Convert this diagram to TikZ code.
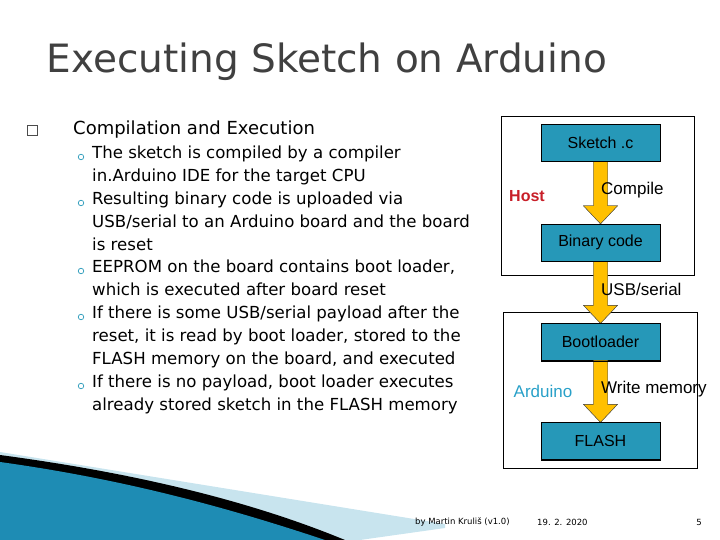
\documentclass[tikz,border=0pt]{standalone}
\usepackage{fontspec}
\setmainfont{Liberation Sans}
\newfontfamily\bodyfont{DejaVu Sans}
\usetikzlibrary{calc}
\usetikzlibrary{arrows}
\usetikzlibrary{shapes}
\usetikzlibrary{positioning}
\definecolor{boxteal}{RGB}{38,152,184}
\definecolor{arrowgold}{RGB}{255,192,0}
\definecolor{hostred}{RGB}{200,30,40}
\definecolor{ardblue}{RGB}{40,160,200}
\definecolor{swoosh}{RGB}{30,140,180}
\definecolor{swooshlight}{RGB}{200,228,238}

\tikzset{
  stagebox/.style={rectangle, draw=black, fill=boxteal, minimum width=119pt, minimum height=37pt, inner sep=0pt, font=\fontsize{16}{18}\selectfont},
  flowarrow/.style={draw=black!70, fill=arrowgold, line width=0.4pt},
  itemtext/.style={anchor=north west, align=left, inner sep=0pt, font=\bodyfont\fontsize{16.6}{22.6}\selectfont},
  flowlabel/.style={anchor=west, inner sep=0pt, font=\fontsize{17}{18}\selectfont}
}
\newcommand{\flowarrowat}[2]{%
  \fill[flowarrow] ($(#1)+(-7,0)$) -- ($(#2)+(-7,-18)$) -- ($(#2)+(-17,-18)$) -- (#2)
    -- ($(#2)+(17,-18)$) -- ($(#2)+(7,-18)$) -- ($(#1)+(7,0)$) -- cycle;
  \draw[flowarrow] ($(#1)+(-7,0)$) -- ($(#2)+(-7,-18)$) -- ($(#2)+(-17,-18)$) -- (#2)
    -- ($(#2)+(17,-18)$) -- ($(#2)+(7,-18)$) -- ($(#1)+(7,0)$);}

\begin{document}
\begin{tikzpicture}[x=1pt, y=-1pt]
\useasboundingbox (0,0) rectangle (720,540);

% title
\node [anchor=west, text=black!75, font=\bodyfont\fontsize{39}{40}\selectfont] (title) at (43,62) {Executing Sketch on Arduino};

% bullet list
\draw [black!70, line width=0.6pt] (27,125) rectangle (37,135);
\node [anchor=west, inner sep=0pt, font=\bodyfont\fontsize{18}{22}\selectfont] (head) at (73,130) {Compilation and Execution};
\foreach \yy in {157,203,271,317,386}
  \node [circle, draw=boxteal, line width=0.7pt, inner sep=0pt, minimum size=5.5pt] at (81,\yy) {};
\node [itemtext] (itemA) at (92,146) {The sketch is compiled by a compiler\\in.Arduino IDE for the target CPU};
\node [itemtext] (itemB) at (92,192) {Resulting binary code is uploaded via\\USB/serial to an Arduino board and the board\\is reset};
\node [itemtext] (itemC) at (92,260) {EEPROM on the board contains boot loader,\\which is executed after board reset};
\node [itemtext] (itemD) at (92,306) {If there is some USB/serial payload after the\\reset, it is read by boot loader, stored to the\\FLASH memory on the board, and executed};
\node [itemtext] (itemE) at (92,375) {If there is no payload, boot loader executes\\already stored sketch in the FLASH memory};

% host and arduino frames
\draw (501,116) rectangle (694,275);
\draw (503,312) rectangle (697,468);
\node [text=hostred, font=\bfseries\fontsize{16}{18}\selectfont] (host) at (527,196) {Host};
\node [text=ardblue, font=\fontsize{17}{18}\selectfont] (arduino) at (543,391) {Arduino};

% stages
\node [stagebox] (sketch) at (600.5,143) {Sketch .c};
\node [stagebox] (binary) at (600.5,242.5) {Binary code};
\node [stagebox] (boot) at (600.5,342) {Bootloader};
\node [stagebox] (flash) at (600.5,441) {FLASH};

% arrows
\flowarrowat{sketch.south}{binary.north}
\flowarrowat{binary.south}{boot.north}
\flowarrowat{boot.south}{flash.north}
\draw [black] (sketch.south west) rectangle (sketch.north east);
\draw [black] (binary.south west) rectangle (binary.north east);
\draw [black] (boot.south west) rectangle (boot.north east);
\draw [black] (flash.south west) rectangle (flash.north east);
\node [flowlabel] (compile) at (601,190) {Compile};
\node [flowlabel] (usb) at (601,289) {USB/serial};
\node [flowlabel] (write) at (601,389) {Write memory};

% swoosh
\fill [swooshlight] (0,452) -- (445,524) -- (445,528) -- (360,540) -- (0,540) -- cycle;
\fill [black] (0,455) .. controls (150,475) and (260,505) .. (345,540) -- (0,540) -- cycle;
\fill [swoosh] (0,462) .. controls (130,480) and (235,510) .. (325,540) -- (0,540) -- cycle;

% footer
\node [anchor=west, inner sep=0pt, font=\bodyfont\fontsize{8.5}{10}\selectfont] (author) at (415,522) {by Martin Kruliš (v1.0)};
\node [anchor=west, inner sep=0pt, font=\bodyfont\fontsize{8.5}{10}\selectfont] (date) at (537,522) {19. 2. 2020};
\node [anchor=east, inner sep=0pt, font=\bodyfont\fontsize{8.5}{10}\selectfont] (page) at (702,522) {5};
\end{tikzpicture}
\end{document}
